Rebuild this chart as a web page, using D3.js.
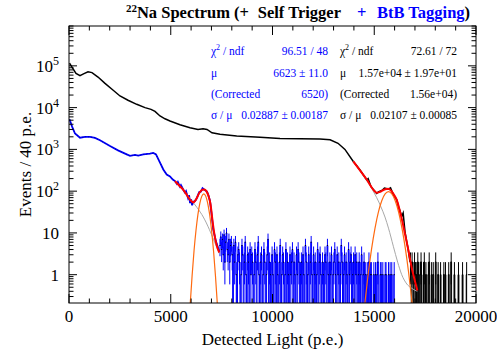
<!DOCTYPE html>
<html><head><meta charset="utf-8">
<script src="https://cdn.jsdelivr.net/npm/d3@7"></script>
<style>body{margin:0;background:#fff}svg{display:block}text{font-family:"Liberation Serif","Times New Roman",serif}</style>
</head><body>
<svg id="c" width="497" height="358"></svg>
<script>
// ---------------- data ----------------
const xTicks = [0, 5000, 10000, 15000, 20000];
const xMinorStep = 1000;
const yDecades = [0, 1, 2, 3, 4, 5];
const binWidth = 40;

// Self trigger spectrum (smooth part) [p.e., events]
const selfTrigger = [[25,116000],[147,93000],[344,66000],[540,58000],[737,65000],[934,72000],[1130,69000],[1425,54000],[1769,38000],[2113,27500],[2506,19000],[2899,15000],[3327,12000],[3735,10000],[4030,9100],[4226,8100],[4472,6300],[4717,5400],[4963,4800],[5455,3900],[5946,3300],[6339,3000],[6585,3100],[6781,3000],[7027,2500],[7420,2300],[8240,2100],[9386,1950],[10370,1820],[11350,1800],[12330,1780],[12830,1700],[13220,1400],[13560,1000],[13970,515],[14150,400],[14300,320],[14450,250],[14630,185],[14700,200],[14840,128],[14950,110],[15120,88],[15200,96],[15380,104],[15500,118],[15690,112],[15800,120],[15920,86],[16100,63],[16200,42],[16350,25],[16420,30],[16510,10.8],[16600,6],[16670,4],[16760,2]];
// Self trigger noisy tail, 40 p.e. bins starting at 16760
const selfTriggerTailStart = 16760;
const selfTriggerTail = [2,1,2,1,0,2,1,1,0,2,1,0,1,2,0,0,1,2,0,1,0,0,1,2,0,0,1,0,1,0,0,2,0,0,1,0,0,1,0,0,0,1,0,1,0,0,0,1,0,0,2,0,0,0,1,0,0,0,0,1,0,0,0,0,1,0,0,0,0,1];

// BtB tagging spectrum (smooth part)
const btb = [[25,5250],[147,3550],[295,2400],[540,1900],[786,2000],[1032,2000],[1278,1890],[1523,1650],[2015,1200],[2408,950],[2835,760],[3000,700],[3243,740],[3400,710],[3651,760],[3980,790],[4143,820],[4275,760],[4472,480],[4634,330],[4801,250],[4963,225],[5100,190],[5209,174],[5300,150],[5350,165],[5450,128],[5500,140],[5617,108],[5700,92],[5750,100],[5850,68],[5900,80],[5950,52],[6000,64],[6050,46],[6108,56],[6200,58],[6290,70],[6400,95],[6487,98],[6560,118],[6650,108],[6781,98],[6850,80],[6929,58],[7000,30],[7090,12],[7224,6.2],[7385,3.6]];
const btbTailStart = 7400;
const btbTail = [5,8,4,7,3,9,2,6,10,4,3,7,2,5,6,
 3,0,5,2,6,1,0,3,4,2,0,1,5,3,0,2,6,1,0,3,2,0,4,1,3,
 2,0,1,4,2,0,3,6,1,0,2,3,0,1,4,2,0,1,3,7,0,2,1,0,3,
 1,0,4,2,0,3,1,0,2,5,0,1,3,2,0,1,4,0,2,1,0,3,1,2,4,
 0,2,1,0,3,1,4,2,0,1,2,0,3,1,0,5,2,0,1,3,0,2,6,1,0,
 3,1,2,0,1,4,0,2,3,1,0,2,1,0,3,2,0,5,1,0,2,1,3,0,1,
 2,4,1,0,3,1,2,0,1,5,2,0,1,3,0,2,1,0,4,1,2,3,0,1,2,
 0,3,1,2,0,1,2,0,1,3,0,1,2,0,1,0,1,0,2,0,1,1,0,0,1,
 0,1,0,1,2,0,0,1,1,0,1,0,0,1,1,0,0,1,0,1,0,1,0,0,1];

// Fits
const btbFitTotal = [[5209,174],[5400,138],[5617,108],[5800,80],[5950,62],[6108,54],[6250,64],[6400,90],[6550,108],[6650,110],[6750,100],[6850,78],[6950,50],[7050,20],[7150,9],[7250,5.2],[7385,3.4]];
const btbFitBkg = [[5209,174],[5617,108],[6000,62],[6300,40],[6600,24],[6900,12],[7100,7],[7385,3.2]];
const btbFitPeak = [[5954,0.19],[6050,0.96],[6145,3.8],[6241,11.6],[6336,27.9],[6432,52],[6528,76],[6623,86],[6718,76],[6814,52],[6910,28],[7005,11.6],[7101,3.8],[7196,0.96],[7292,0.19]];

const selfFitTotal = [[13970,515],[14300,313],[14630,190],[14840,130],[15000,102],[15120,91],[15300,97],[15500,110],[15690,114],[15850,100],[16000,78],[16100,63],[16250,35],[16350,22],[16500,10],[16670,4],[16850,1.4],[17000,0.7],[17115,0.42]];
const selfFitBkg = [[13970,515],[14300,305],[14630,180],[14840,125],[15000,90],[15120,70],[15330,42],[15528,24],[15700,13],[15937,4.8],[16150,2.0],[16350,1.0],[16600,0.6],[16850,0.47],[17115,0.40]];
const selfFitPeak = [[14535,0.2],[14707,1.08],[14872,4.25],[15038,13.1],[15203,31.6],[15369,58.8],[15534,85.6],[15700,97],[15866,85.6],[16031,58.8],[16197,31.6],[16362,13.1],[16528,4.25],[16693,1.08],[16865,0.2]];

const statsBtb = [["chi","96.51 / 48"],["μ","6623 ± 11.0"],["(Corrected","6520)"],["σ / μ","0.02887 ± 0.00187"]];
const statsSelf = [["chi","72.61 / 72"],["μ","1.57e+04 ± 1.97e+01"],["(Corrected","1.56e+04)"],["σ / μ","0.02107 ± 0.00085"]];

// ---------------- drawing ----------------
const L = 69, R = 476, T = 26, B = 303;
const svg = d3.select("#c");
const x = d3.scaleLinear().domain([0, 20000]).range([L, R]);
const y = d3.scaleLog().domain([0.21, 9e5]).range([B, T]);
const BLUE = "#0000ff", RED = "#ff0000", ORANGE = "#ff6a10", GREY = "#a8a8a8";

svg.append("defs").append("clipPath").attr("id","clip")
  .append("rect").attr("x",L).attr("y",T).attr("width",R-L).attr("height",B-T);
const plot = svg.append("g").attr("clip-path","url(#clip)");

const yc = v => v > 0 ? y(v) : B + 20;
const line = d3.line().x(d => x(d[0])).y(d => yc(d[1]));
const smooth = d3.line().x(d => x(d[0])).y(d => yc(d[1])).curve(d3.curveMonotoneX);

function drawTail(start, vals, color) {
  const pts = [];
  vals.forEach((v, i) => { const a = start + i*binWidth; pts.push([a, v]); pts.push([a+binWidth, v]); });
  plot.append("path").attr("d", line(pts)).attr("fill","none").attr("stroke",color).attr("stroke-width",1);
  const g = plot.append("g");
  vals.forEach((v, i) => {
    if (v <= 0) return;
    const xc = x(start + (i+0.5)*binWidth);
    const e = Math.sqrt(v);
    g.append("line").attr("x1",xc).attr("x2",xc).attr("y1",yc(v+e)).attr("y2",yc(v-e))
      .attr("stroke",color).attr("stroke-width",1);
  });
  vals.forEach((v, i) => {
    if (v <= 0) return;
    const xc = x(start + (i+0.5)*binWidth);
    g.append("rect").attr("x",xc-0.5).attr("y",y(v)-0.5).attr("width",1).attr("height",1).attr("fill","#000");
  });
}

// BtB (blue)
plot.append("path").attr("d", line(btb)).attr("fill","none").attr("stroke",BLUE).attr("stroke-width",1.8);
plot.append("path").attr("d", line(btb)).attr("fill","none").attr("stroke","#000050").attr("stroke-width",0.6).attr("stroke-dasharray","1,2");
drawTail(btbTailStart, btbTail, BLUE);
// Self trigger (black)
plot.append("path").attr("d", line(selfTrigger)).attr("fill","none").attr("stroke","#000").attr("stroke-width",1.5);
drawTail(selfTriggerTailStart, selfTriggerTail, "#000");

// fits
[[btbFitBkg, GREY, 1],[selfFitBkg, GREY, 1],[btbFitPeak, ORANGE, 1.2],[selfFitPeak, ORANGE, 1.2],[btbFitTotal, RED, 2],[selfFitTotal, RED, 2]]
  .forEach(([d, c, w]) => plot.append("path").attr("d", smooth(d)).attr("fill","none").attr("stroke",c).attr("stroke-width",w));

// frame
svg.append("rect").attr("x",L).attr("y",T).attr("width",R-L).attr("height",B-T).attr("fill","none").attr("stroke","#000").attr("stroke-width",1);

const ax = svg.append("g").attr("stroke","#000").attr("stroke-width",1);
for (let v = 0; v <= 20000; v += xMinorStep) {
  const major = xTicks.includes(v);
  const len = major ? 9 : 4.5;
  const xp = x(v);
  ax.append("line").attr("x1",xp).attr("x2",xp).attr("y1",B).attr("y2",B-len);
  ax.append("line").attr("x1",xp).attr("x2",xp).attr("y1",T).attr("y2",T+len);
}
const [ymin, ymax] = y.domain();
for (let e = -1; e <= 6; e++) {
  for (let m = 1; m <= 9; m++) {
    const v = m * Math.pow(10, e);
    if (v < ymin || v > ymax) continue;
    const len = m === 1 ? 8 : 4.5;
    const yp = y(v);
    ax.append("line").attr("x1",L).attr("x2",L+len).attr("y1",yp).attr("y2",yp);
    ax.append("line").attr("x1",R).attr("x2",R-len).attr("y1",yp).attr("y2",yp);
  }
}
xTicks.forEach(v => svg.append("text").attr("x",x(v)).attr("y",322).attr("text-anchor","middle")
  .attr("font-size",17).text(v));
yDecades.forEach(e => {
  const t = svg.append("text").attr("x",59).attr("y",y(Math.pow(10,e))+6).attr("text-anchor","end").attr("font-size",17);
  if (e === 0) t.text("1");
  else if (e === 1) t.text("10");
  else { t.append("tspan").text("10"); t.append("tspan").attr("font-size",12).attr("dy",-7).text(e); }
});
svg.append("text").attr("x",(L+R)/2).attr("y",345).attr("text-anchor","middle").attr("font-size",17).text("Detected Light (p.e.)");
svg.append("text").attr("transform",`translate(31,${(T+B)/2}) rotate(-90)`).attr("text-anchor","middle").attr("font-size",17).text("Events / 40 p.e.");

// title
const TF = 16.5;
const t1 = svg.append("text").attr("x",249).attr("y",18).attr("text-anchor","end").attr("font-size",TF).attr("font-weight","bold");
t1.append("tspan").attr("font-size",11).attr("dy",-6).text("22");
t1.append("tspan").attr("dy",6).text("Na Spectrum (+");
svg.append("text").attr("x",341).attr("y",18).attr("text-anchor","end").attr("font-size",TF).attr("font-weight","bold").text("Self Trigger");
svg.append("text").attr("x",357).attr("y",18).attr("font-size",TF).attr("font-weight","bold").attr("fill",BLUE).text("+");
const t3 = svg.append("text").attr("x",377).attr("y",18).attr("font-size",TF).attr("font-weight","bold");
t3.append("tspan").attr("fill",BLUE).text("BtB Tagging");
t3.append("tspan").attr("fill","#000").text(")");

// stats boxes
const rowsY = [55, 76.5, 98, 119];
function stats(rows, xl, xr, color) {
  rows.forEach(([lab, val], i) => {
    const tl = svg.append("text").attr("x",xl).attr("y",rowsY[i]).attr("font-size",11.5).attr("fill",color);
    if (lab === "chi") {
      tl.append("tspan").text("χ");
      tl.append("tspan").attr("font-size",8).attr("dy",-5).text("2");
      tl.append("tspan").attr("dy",5).text(" / ndf");
    } else tl.text(lab);
    svg.append("text").attr("x",xr).attr("y",rowsY[i]).attr("text-anchor","end").attr("font-size",11.5).attr("fill",color).text(val);
  });
}
stats(statsBtb, 211, 328, BLUE);
stats(statsSelf, 340, 457, "#000");
</script>
</body></html>
